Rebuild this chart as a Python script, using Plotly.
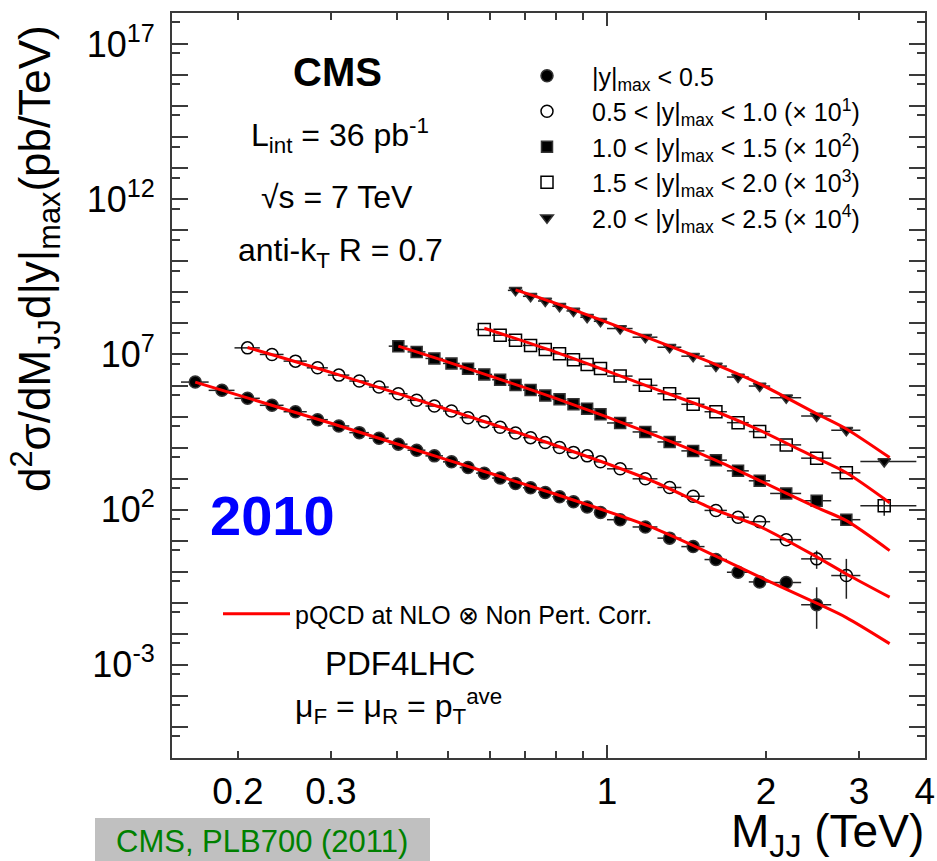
import math
import plotly.graph_objects as go

# Dijet mass binning (TeV) and the mass at which each bin is plotted
mass_edges = [0.156, 0.176, 0.197, 0.220, 0.244, 0.270, 0.296, 0.325, 0.354, 0.386,
              0.419, 0.453, 0.489, 0.526, 0.565, 0.606, 0.649, 0.693, 0.740, 0.788,
              0.838, 0.890, 0.944, 1.000, 1.118, 1.246, 1.383, 1.530, 1.687, 1.856,
              2.037, 2.332, 2.659, 3.019, 3.854]
mass_points = [0.166, 0.1865, 0.2085, 0.232, 0.257, 0.283, 0.3105, 0.3395, 0.370, 0.4025,
               0.436, 0.471, 0.5075, 0.5455, 0.5855, 0.6275, 0.671, 0.7165, 0.764, 0.813,
               0.864, 0.917, 0.972, 1.059, 1.182, 1.314, 1.456, 1.608, 1.771, 1.946,
               2.185, 2.495, 2.84, 3.35]

# Measured d2sigma/dM dy (pb/TeV) for each |y|max slice, before display scaling
xs_y00_05 = [1.29e6, 6.98e5, 3.86e5, 2.30e5, 1.43e5, 7.93e4, 4.97e4, 3.03e4, 2.00e4, 1.29e4,
             8.25e3, 5.41e3, 3.47e3, 2.28e3, 1.50e3, 1.04e3, 697, 507, 358, 261,
             180, 122, 81.6, 47.5, 27.7, 12.1, 6.46, 2.47, 0.964, 0.47, 0.45, 0.0865]
xs_y05_10 = [1.63e6, 1.0e6, 6.09e5, 3.71e5, 2.16e5, 1.39e5, 8.91e4, 5.42e4, 3.33e4, 2.18e4,
             1.51e4, 9.19e3, 6.84e3, 4.52e3, 2.96e3, 2.09e3, 1.45e3, 1.01e3, 700, 541,
             347, 207, 98.6, 51.9, 27.0, 9.46, 5.73, 4.10, 1.08, 0.260, 0.0755]
xs_y10_15 = [1.85e5, 1.21e5, 7.44e4, 5.14e4, 3.45e4, 2.28e4, 1.53e4, 1.03e4, 7.13e3, 4.75e3,
             3.58e3, 2.48e3, 1.79e3, 1.18e3, 621, 319, 152, 78.3, 39.4, 17.8,
             8.51, 3.33, 1.94, 0.475]
xs_y15_20 = [6.35e4, 4.17e4, 2.88e4, 1.95e4, 1.45e4, 1.05e4, 6.71e3, 4.77e3, 3.55e3, 2.01e3,
             1.01e3, 542, 248, 143, 63.5, 32.7, 12.2, 4.56, 1.54, 0.134]
xs_y20_25 = [1.16e5, 7.46e4, 5.27e4, 3.56e4, 2.52e4, 1.58e4, 1.17e4, 6.84e3, 3.60e3, 1.71e3,
             881, 421, 187, 95.9, 40.4, 10.4, 3.62, 0.355]

# Statistical uncertainties (pb/TeV); only the highest-mass bins are non-negligible
err_up_y00_05 = [0.0] * 29 + [0.15, 0.14, 0.23]
err_dn_y00_05 = [0.0] * 29 + [0.12, 0.11, 0.072]
err_up_y05_10 = [0.0] * 29 + [0.22, 0.184]
err_dn_y05_10 = [0.0] * 29 + [0.136, 0.062]
err_up_y10_15 = [0.0] * 24
err_dn_y10_15 = [0.0] * 24
err_up_y15_20 = [0.0] * 19 + [0.108]
err_dn_y15_20 = [0.0] * 19 + [0.070]
err_up_y20_25 = [0.0] * 17 + [0.08]
err_dn_y20_25 = [0.0] * 17 + [0.07]

first_bin = [0, 2, 9, 14, 16]
scale = [1, 10, 100, 1000, 10000]

# NLO pQCD x non-perturbative correction (pb/TeV)
th_mass_y00_05 = [0.166, 0.3, 0.5, 0.8, 1.2, 1.6, 1.95, 2.5, 2.84, 3.43]
th_xs_y00_05 = [1.29e6, 6.08e4, 3.96e3, 313, 29.4, 3.32, 0.667, 0.095, 0.0334, 4.83e-3]
th_mass_y05_10 = [0.2085, 0.3, 0.5, 0.8, 1.2, 1.6, 1.95, 2.5, 2.84, 3.43]
th_xs_y05_10 = [1.68e6, 2.64e5, 1.66e4, 1.17e3, 93.7, 9.96, 2.83, 0.297, 0.085, 0.0152]
th_mass_y10_15 = [0.4025, 0.5, 0.8, 1.2, 1.6, 1.95, 2.5, 2.84, 3.43]
th_xs_y10_15 = [1.85e5, 5.66e4, 3.83e3, 296, 40.3, 8.51, 1.16, 0.442, 0.048]
th_mass_y15_20 = [0.5855, 0.8, 1.2, 1.6, 1.95, 2.5, 2.84, 3.43]
th_xs_y15_20 = [7.0e4, 1.19e4, 924, 151, 35.7, 4.50, 1.54, 0.167]
th_mass_y20_25 = [0.671, 0.8, 1.2, 1.6, 1.95, 2.5, 2.84, 3.43]
th_xs_y20_25 = [1.21e5, 4.45e4, 3.34e3, 488, 111, 12.1, 3.98, 0.476]

labels = [
    "|y|<sub>max</sub> &lt; 0.5",
    "0.5 &lt; |y|<sub>max</sub> &lt; 1.0 (× 10<sup>1</sup>)",
    "1.0 &lt; |y|<sub>max</sub> &lt; 1.5 (× 10<sup>2</sup>)",
    "1.5 &lt; |y|<sub>max</sub> &lt; 2.0 (× 10<sup>3</sup>)",
    "2.0 &lt; |y|<sub>max</sub> &lt; 2.5 (× 10<sup>4</sup>)",
]
x_tick_vals = [0.2, 0.3, 1, 2, 3, 4]
x_tick_text = ["0.2", "0.3", "1", "2", "3", "4"]
x_minor_vals = [0.4, 0.5, 0.6, 0.7, 0.8, 0.9]
y_label_exps = [-3, 2, 7, 12, 17]
y_plain_exps = [d for d in range(-6, 19) if d not in y_label_exps]
y_half_vals = [5 * 10.0 ** d for d in range(-7, 18)]

measured = [xs_y00_05, xs_y05_10, xs_y10_15, xs_y15_20, xs_y20_25]
err_up = [err_up_y00_05, err_up_y05_10, err_up_y10_15, err_up_y15_20, err_up_y20_25]
err_dn = [err_dn_y00_05, err_dn_y05_10, err_dn_y10_15, err_dn_y15_20, err_dn_y20_25]
th_mass = [th_mass_y00_05, th_mass_y05_10, th_mass_y10_15, th_mass_y15_20, th_mass_y20_25]
th_xs = [th_xs_y00_05, th_xs_y05_10, th_xs_y10_15, th_xs_y15_20, th_xs_y20_25]

symbols = ["circle", "circle-open", "square", "square-open", "triangle-down"]
sizes = [12, 12, 11, 12, 11]

FONT = "Liberation Sans, Arial, Helvetica, sans-serif"
INK = "#3a3a3a"
X_RANGE = [math.log10(0.15), math.log10(4.002)]
Y_RANGE = [-6, 18]

fig = go.Figure()

# measured spectra on the primary axes
for k in range(5):
    i0 = first_bin[k]
    n = len(measured[k])
    m = mass_points[i0:i0 + n]
    lo = mass_edges[i0:i0 + n]
    hi = mass_edges[i0 + 1:i0 + n + 1]
    fig.add_trace(go.Scatter(
        x=m,
        y=[v * scale[k] for v in measured[k]],
        mode="markers",
        name=labels[k],
        legend="legend",
        legendgroup=f"slice{k}",
        marker=dict(symbol=symbols[k], size=sizes[k], color="black",
                    line=dict(color="#333333", width=1.5)),
        error_x=dict(type="data", symmetric=False,
                     array=[h - c for h, c in zip(hi, m)],
                     arrayminus=[c - l for l, c in zip(lo, m)],
                     color="#222222", thickness=1.5, width=0),
        error_y=dict(type="data", symmetric=False,
                     array=[e * scale[k] for e in err_up[k]],
                     arrayminus=[e * scale[k] for e in err_dn[k]],
                     color="#222222", thickness=1.5, width=0),
    ))

# theory curves on an overlaid pair of axes (same ranges), drawn above the data
for k in range(5):
    fig.add_trace(go.Scatter(
        x=th_mass[k],
        y=[v * scale[k] for v in th_xs[k]],
        xaxis="x2", yaxis="y2",
        mode="lines",
        name="pQCD at NLO ⊗ Non Pert. Corr.",
        legend="legend2",
        showlegend=(k == 0),
        line=dict(color="#ff0000", width=3, shape="spline", smoothing=0.8),
    ))


def px(xpix):
    return (xpix - 172) / 753.0


def py(ypix):
    return (758 - ypix) / 745.0


notes = [
    ("<b>CMS</b>", 337, 72, 40, "black"),
    ("L<sub>int</sub> = 36 pb<sup>-1</sup>", 340, 135, 32, "black"),
    ("√s = 7 TeV", 337, 197, 32, "black"),
    ("anti-k<sub>T</sub> R = 0.7", 340, 252, 32, "black"),
    ("<b>2010</b>", 272, 515, 56, "#0000ff"),
    ("PDF4LHC", 400, 663, 33, "black"),
    ("μ<sub>F</sub> = μ<sub>R</sub> = p<sub>T</sub><sup>ave</sup>", 398, 706, 32, "black"),
]
annotations = []
for text, xp, yp, size, color in notes:
    annotations.append(dict(text=text, x=px(xp), y=py(yp), xref="paper", yref="paper",
                            xanchor="center", yanchor="middle", showarrow=False,
                            font=dict(size=size, color=color, family=FONT)))

annotations.append(dict(
    text="d<sup>2</sup>σ/dM<sub>JJ</sub>d|y|<sub>max</sub>(pb/TeV)",
    x=px(35), y=py(259), xref="paper", yref="paper", textangle=-90,
    xanchor="center", yanchor="middle", showarrow=False,
    font=dict(size=44, color="black", family=FONT)))
annotations.append(dict(
    text="M<sub>JJ</sub> (TeV)", x=px(926), y=py(835), xref="paper", yref="paper",
    xanchor="right", yanchor="middle", showarrow=False,
    font=dict(size=46, color="black", family=FONT)))
annotations.append(dict(
    text="CMS, PLB700 (2011)", x=px(262), y=py(841), xref="paper", yref="paper",
    xanchor="center", yanchor="middle", showarrow=False,
    font=dict(size=31, color="#008000", family=FONT)))

shapes = [dict(type="rect", xref="paper", yref="paper", x0=px(95), x1=px(430),
               y0=py(861), y1=py(818), fillcolor="#c0c0c0", line=dict(width=0), layer="below")]

minor_style = dict(ticks="inside", tickwidth=1.5, tickcolor=INK, showgrid=False)
tick_style = dict(minor_style, zeroline=False)

fig.update_layout(
    width=937, height=861,
    margin=dict(l=172, r=12, t=13, b=103, autoexpand=False),
    plot_bgcolor="white", paper_bgcolor="white",
    font=dict(family=FONT, color="black"),
    showlegend=True,
    xaxis=dict(
        type="log", range=X_RANGE, automargin=False,
        tickmode="array", tickvals=x_tick_vals, ticktext=x_tick_text, ticklen=7,
        showline=True, linecolor=INK, linewidth=2, mirror="ticks",
        tickfont=dict(size=37, family=FONT), ticklabelstandoff=0,
        minor=dict(tickmode="array", tickvals=x_minor_vals, ticklen=7, **minor_style),
        **tick_style,
    ),
    yaxis=dict(
        type="log", range=Y_RANGE, automargin=False,
        tickmode="array", tickvals=[10.0 ** d for d in y_label_exps],
        ticktext=[f"10<sup>{d}</sup>" for d in y_label_exps], ticklen=16,
        showline=True, linecolor=INK, linewidth=2, mirror="ticks",
        tickfont=dict(size=36, family=FONT), ticklabelstandoff=8,
        minor=dict(tickmode="array", tickvals=[10.0 ** d for d in y_plain_exps],
                   ticklen=16, **minor_style),
        **tick_style,
    ),
    # overlaid axes: the long tick at 1 TeV and the short ticks between decades
    xaxis2=dict(
        type="log", range=X_RANGE, overlaying="x", anchor="y2", side="bottom",
        automargin=False, tickmode="array", tickvals=[1], ticklen=13,
        showticklabels=False, showline=False, mirror="ticks", **tick_style,
    ),
    yaxis2=dict(
        type="log", range=Y_RANGE, overlaying="y", anchor="x2", side="left",
        automargin=False, tickmode="array", tickvals=y_half_vals, ticklen=8,
        showticklabels=False, showline=False, mirror="ticks", **tick_style,
    ),
    legend=dict(x=px(502), y=py(53), xanchor="left", yanchor="top",
                bgcolor="rgba(0,0,0,0)", borderwidth=0, itemwidth=80,
                tracegroupgap=0, font=dict(size=25, family=FONT), valign="middle"),
    legend2=dict(x=px(218), y=py(591), xanchor="left", yanchor="top",
                 bgcolor="rgba(0,0,0,0)", borderwidth=0, itemwidth=67,
                 font=dict(size=25, family=FONT)),
    annotations=annotations,
    shapes=shapes,
)

fig.write_html("out.html")
